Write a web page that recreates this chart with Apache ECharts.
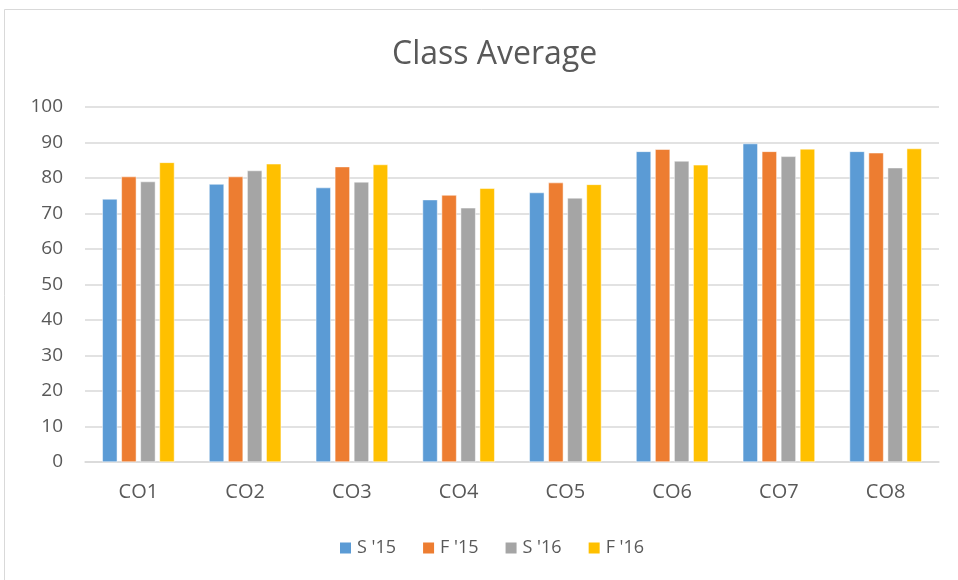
<!DOCTYPE html>
<html>
<head>
<meta charset="utf-8">
<script src="https://cdn.jsdelivr.net/npm/echarts@6/dist/echarts.min.js"></script>
<style>
  html, body { margin: 0; padding: 0; background: #fff; }
  #chart { width: 958px; height: 580px; }
</style>
</head>
<body>
<div id="chart"></div>
<script>
// data
const categories = ['CO1', 'CO2', 'CO3', 'CO4', 'CO5', 'CO6', 'CO7', 'CO8']
const seriesNames = ["S '15", "F '15", "S '16", "F '16"]
const s15 = [74.1, 78.3, 77.3, 73.9, 75.9, 87.5, 89.7, 87.5]
const f15 = [80.4, 80.4, 83.2, 75.2, 78.7, 88.1, 87.5, 87.1]
const s16 = [79.0, 82.1, 78.9, 71.6, 74.4, 84.8, 86.1, 82.9]
const f16 = [84.4, 84.0, 83.8, 77.1, 78.2, 83.7, 88.2, 88.3]
const colors = ['#5b9bd5', '#ed7d31', '#a5a5a5', '#ffc000']

const font = 'Open Sans'
const values = [s15, f15, s16, f16]

let chart = echarts.init(document.getElementById('chart'))
chart.setOption({
  backgroundColor: '#fff',
  textStyle: { fontFamily: font },
  title: {
    text: 'Class Average',
    left: 387,
    top: 34,
    textStyle: { color: '#595959', fontSize: 32, fontWeight: 'normal', fontFamily: font }
  },
  legend: {
    top: 534,
    left: 333,
    itemWidth: 13,
    itemHeight: 13,
    itemGap: 25,
    icon: 'rect',
    textStyle: { color: '#595959', fontSize: 18 },
    data: seriesNames
  },
  graphic: [{
    type: 'rect',
    shape: { x: 4.5, y: 9.5, width: 960, height: 580 },
    style: { fill: 'none', stroke: '#d9d9d9', lineWidth: 1 },
    silent: true
  }],
  grid: { left: 85, right: 19, top: 107, bottom: 118 },
  xAxis: {
    type: 'category',
    data: categories,
    axisLine: { lineStyle: { color: '#d9d9d9', width: 1.5 } },
    axisTick: { show: false },
    axisLabel: { color: '#595959', fontSize: 20, margin: 20 }
  },
  yAxis: {
    type: 'value',
    min: 0,
    max: 100,
    interval: 10,
    axisLine: { show: false },
    axisTick: { show: false },
    axisLabel: { color: '#595959', fontSize: 19, margin: 22 },
    splitLine: { lineStyle: { color: '#d9d9d9', width: 1.5 } }
  },
  series: seriesNames.map((name, i) => ({
    name: name,
    type: 'bar',
    data: values[i],
    barWidth: 15,
    barGap: '27%',
    itemStyle: { color: colors[i], borderColor: '#fff', borderWidth: 0.5 }
  }))
})
</script>
</body>
</html>
